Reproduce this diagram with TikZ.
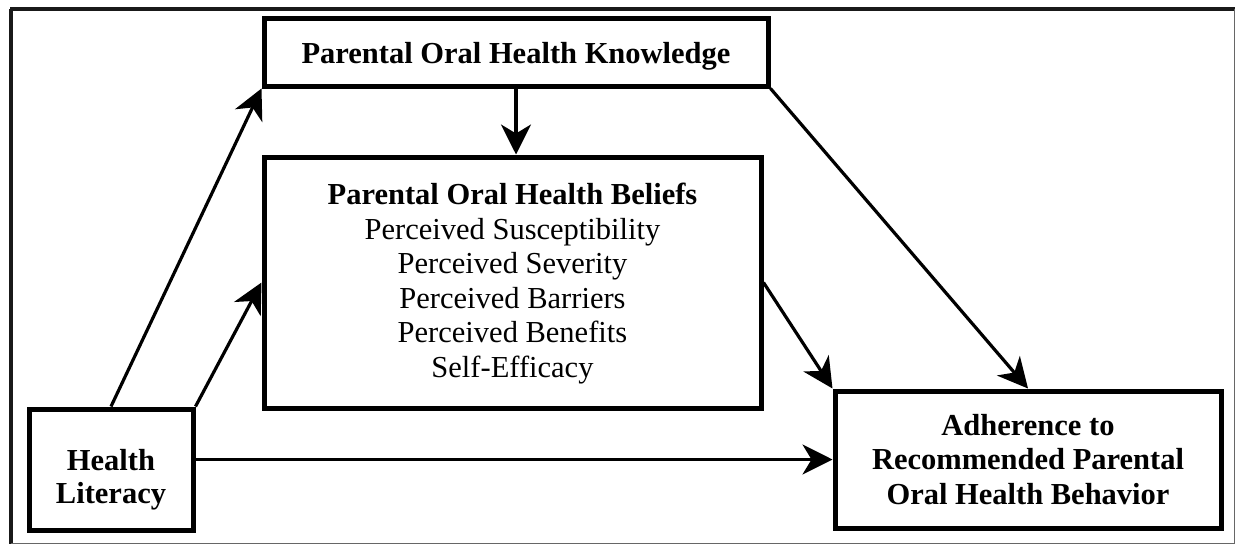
\documentclass[tikz,border=0pt]{standalone}
\usepackage{fontspec}
\setmainfont{Liberation Serif}
\usetikzlibrary{arrows.meta,calc}
\begin{document}
\begin{tikzpicture}[x=1pt,y=-1pt,
  box/.style={draw=black,line width=5pt,rectangle,inner sep=0pt},
  txt/.style={inner sep=0pt,align=center,font=\fontsize{30.5}{34.5}\selectfont},
  conn/.style={line width=3.2pt,-{Stealth[length=30pt,width=30pt,inset=9pt]}},
  frame/.style={line width=4.5pt,color=black!90}]
\useasboundingbox (0,0) rectangle (1235,544);
% outer frame
\draw[frame] (10,9) -- (1235,9);
\draw[frame] (11,9) -- (11,544);
\draw[line width=1pt,color=black!60] (1234,9) -- (1234,543) -- (11,543);
% boxes
\node[box,minimum width=504pt,minimum height=68pt] (know) at (516,52) {};
\node[txt] (knowt) at ($(know.center)+(0,4)$) {\bfseries Parental Oral Health Knowledge};
\node[box,minimum width=497pt,minimum height=251pt] (bel) at (512.5,282.5) {};
\node[txt] (belt) at ($(bel.center)+(0,1)$) {\textbf{Parental Oral Health Beliefs}\\Perceived Susceptibility\\Perceived Severity\\Perceived Barriers\\Perceived Benefits\\Self-Efficacy};
\node[box,minimum width=164pt,minimum height=121pt] (hl) at (111,469.5) {};
\node[txt,font=\fontsize{30.5}{33}\selectfont] (hlt) at ($(hl.center)+(0,10)$) {\bfseries Health\\\bfseries Literacy};
\node[box,minimum width=386pt,minimum height=137pt] (adh) at (1028,459.5) {};
\node[txt] (adht) at ($(adh.center)+(0,0)$) {\bfseries Adherence to\\\bfseries Recommended Parental\\\bfseries Oral Health Behavior};
% connectors
\draw[conn] (hl.north) -- (know.south west);
\draw[conn] (hl.north east) -- (bel.west);
\draw[conn] (hl.east |- adh.west) -- (adh.west);
\draw[conn] (know.south) -- (know.south |- bel.north);
\draw[conn] (bel.east) -- (adh.north west);
\draw[conn] (know.south east) -- (adh.north);
\end{tikzpicture}
\end{document}
